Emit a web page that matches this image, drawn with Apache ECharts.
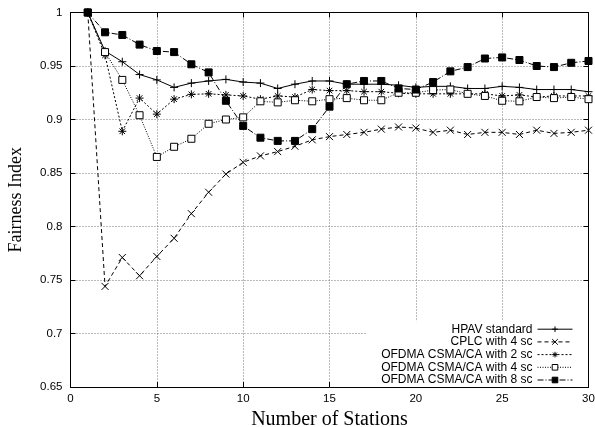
<!DOCTYPE html>
<html>
<head>
<meta charset="utf-8">
<script src="https://cdn.jsdelivr.net/npm/echarts@6/dist/echarts.min.js"></script>
<style>html,body{margin:0;padding:0;background:#fff;}#c{width:595px;height:427px;}</style>
</head>
<body>
<div id="c"></div>
<script>
var stations = [1,2,3,4,5,6,7,8,9,10,11,12,13,14,15,16,17,18,19,20,21,22,23,24,25,26,27,28,29,30];
var seriesNames = ['HPAV standard','CPLC with 4 sc','OFDMA CSMA/CA with 2 sc','OFDMA CSMA/CA with 4 sc','OFDMA CSMA/CA with 8 sc'];
var hpav = [1.000,0.964,0.954,0.942,0.937,0.930,0.934,0.936,0.9375,0.935,0.934,0.929,0.933,0.936,0.936,0.933,0.933,0.933,0.932,0.930,0.931,0.931,0.929,0.929,0.931,0.930,0.928,0.928,0.928,0.926];
var cplc = [1.000,0.744,0.771,0.754,0.772,0.789,0.812,0.832,0.849,0.860,0.866,0.870,0.875,0.881,0.884,0.886,0.888,0.891,0.893,0.892,0.888,0.890,0.886,0.888,0.888,0.886,0.890,0.887,0.888,0.890];
var ofdma2 = [1.000,0.960,0.889,0.920,0.905,0.919,0.9235,0.924,0.923,0.922,0.919,0.922,0.921,0.928,0.927,0.927,0.926,0.926,0.9245,0.924,0.924,0.924,0.924,0.924,0.922,0.923,0.921,0.922,0.922,0.922];
var ofdma4 = [1.000,0.963,0.937,0.904,0.865,0.8745,0.882,0.896,0.900,0.902,0.917,0.916,0.918,0.917,0.919,0.920,0.918,0.918,0.925,0.925,0.9275,0.928,0.924,0.922,0.9175,0.917,0.921,0.920,0.921,0.919];
var ofdma8 = [1.000,0.9815,0.979,0.970,0.964,0.963,0.9516,0.944,0.9175,0.894,0.883,0.880,0.880,0.891,0.912,0.933,0.936,0.936,0.929,0.928,0.935,0.945,0.949,0.957,0.958,0.9556,0.950,0.949,0.953,0.9547];
var xTicks = [0,5,10,15,20,25,30];
var yTicks = [0.65,0.7,0.75,0.8,0.85,0.9,0.95,1];

function pairs(ys){ return stations.map(function(x,i){ return [x, ys[i]]; }); }

var chart = echarts.init(document.getElementById('c'), null, {renderer:'canvas'});
var black = '#000';
var gridLine = {show:true, lineStyle:{color:'#777', width:1, type:[1,2]}};
var tickIn = {show:true, inside:true, length:5, lineStyle:{color:black, width:1}};
var sans = 'Liberation Sans, Arial, Helvetica, sans-serif';
var serif = 'Liberation Serif, Times New Roman, serif';

function mkSeries(name, data, symbol, size, lineType, fill){
  return {
    name: name, type:'line', data: pairs(data), symbol: symbol, symbolSize: size,
    showSymbol: true, color: black,
    lineStyle: {color: black, width: 1, type: lineType},
    itemStyle: {color: fill, borderColor: black, borderWidth: 1},
    emphasis: {disabled: true}, z: 3
  };
}

var option = {
  animation: false,
  backgroundColor: '#fff',
  grid: {left: 70.5, right: 6.5, top: 12.5, bottom: 40, containLabel: false, outerBoundsMode: 'none'},
  legend: {
    orient: 'vertical', right: 7, bottom: 40, align: 'right',
    backgroundColor: '#fff', padding: [2, 15, 1, 14],
    itemWidth: 35, itemHeight: 7, itemGap: 0.7,
    lineStyle: {width: 1},
    itemStyle: {borderWidth: 1},
    textStyle: {color: black, fontFamily: sans, fontSize: 12, lineHeight: 12},
    data: seriesNames
  },
  xAxis: [{
    type:'value', min: 0, max: 30, interval: 5, position:'bottom',
    axisLine:{show:true, onZero:false, lineStyle:{color:black, width:1}},
    axisTick: tickIn, splitLine: gridLine,
    axisLabel:{color:black, fontFamily: sans, fontSize: 11.5, margin: 6},
    name: 'Number of Stations', nameLocation: 'middle', nameGap: 18,
    nameTextStyle:{color:black, fontFamily: serif, fontSize: 20}
  },{
    type:'value', min: 0, max: 30, interval: 5, position:'top',
    axisLine:{show:true, onZero:false, lineStyle:{color:black, width:1}},
    axisTick: tickIn, splitLine:{show:false}, axisLabel:{show:false}
  }],
  yAxis: [{
    type:'value', min: 0.65, max: 1, interval: 0.05, position:'left',
    axisLine:{show:true, onZero:false, lineStyle:{color:black, width:1}},
    axisTick: tickIn, splitLine: gridLine,
    axisLabel:{color:black, fontFamily: sans, fontSize: 11.5, margin: 8,
      formatter: function(v){ return String(Math.round(v*100)/100); }},
    name: 'Fairness Index', nameLocation: 'middle', nameGap: 45.5, nameRotate: 90,
    nameTextStyle:{color:black, fontFamily: serif, fontSize: 18}
  },{
    type:'value', min: 0.65, max: 1, interval: 0.05, position:'right',
    axisLine:{show:true, onZero:false, lineStyle:{color:black, width:1}},
    axisTick: tickIn, splitLine:{show:false}, axisLabel:{show:false}
  }],
  series: [
    mkSeries(seriesNames[0], hpav, 'path://M0 5L10 5M5 0L5 10', 8, 'solid', black),
    mkSeries(seriesNames[1], cplc, 'path://M0 0L10 10M0 10L10 0', 7, [4,3], black),
    mkSeries(seriesNames[2], ofdma2, 'path://M0 5L10 5M5 0L5 10M1.5 1.5L8.5 8.5M1.5 8.5L8.5 1.5', 8, [2,2], black),
    mkSeries(seriesNames[3], ofdma4, 'rect', 7, [1,1.5], '#fff'),
    mkSeries(seriesNames[4], ofdma8, 'rect', 7, [6,2,1,2], black)
  ]
};
chart.setOption(option);
</script>
</body>
</html>
